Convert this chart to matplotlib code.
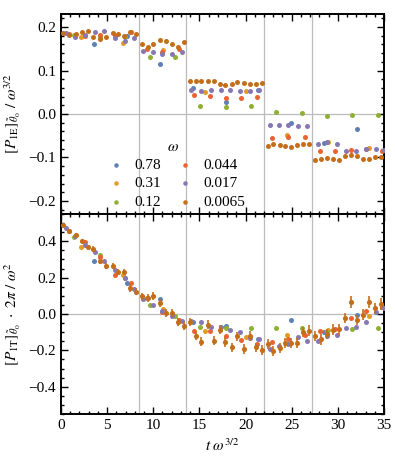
import matplotlib
matplotlib.use("Agg")
import matplotlib.pyplot as plt
from matplotlib.ticker import MultipleLocator, AutoMinorLocator

plt.rcParams["font.family"] = ["Liberation Serif", "DejaVu Serif"]
plt.rcParams["mathtext.fontset"] = "stix"

# omega values and Mathematica default colours
OMEGA_LABELS = ["0.78", "0.31", "0.12", "0.044", "0.017", "0.0065"]
COLORS = ["#5E81B5", "#E19C24", "#8FB032", "#EB6235", "#8778B3", "#C56E1A"]

# time boundaries (t omega^{3/2}) drawn as grid lines
VLINES = [8.4, 13.6, 22.0, 27.2]

# omega = 0.78
blue_x = [3.6, 7.15, 10.7, 14.3, 17.85, 21.4, 24.95, 28.5, 32.1]
blue_top = [0.161, 0.180, 0.114, 0.060, 0.028, 0.056, -0.021, -0.066, -0.035]
blue_bot = [0.290, 0.170, 0.083, -0.045, -0.064, -0.140, -0.031, -0.100, -0.004]

# omega = 0.31
orange_x = [2.2, 6.67, 11.1, 15.6, 20.1, 24.5, 28.9, 33.4]
orange_top = [0.176, 0.164, 0.148, 0.050, 0.052, -0.048, -0.065, -0.079]
orange_bot = [0.368, 0.215, 0.030, -0.096, -0.125, -0.114, -0.088, -0.013]

# omega = 0.12
green_x = [1.45, 4.2, 6.9, 9.65, 12.35, 15.05, 17.85, 20.6, 23.3, 26.1, 28.8, 31.55, 34.35]
green_top = [0.182, 0.178, 0.178, 0.130, 0.131, 0.019, 0.016, 0.018, 0.004, 0.002,
             -0.005, -0.002, -0.002]
green_bot = [0.423, 0.322, 0.199, 0.050, -0.013, -0.070, -0.079, -0.079, -0.079, -0.079,
             -0.101, -0.083, -0.079]

# omega = 0.044
red_x = [0.87, 2.6, 4.2, 5.9, 7.6, 9.3, 11.0, 12.8, 14.4, 16.1, 17.85, 19.55, 21.2,
         22.9, 24.6, 26.4, 28.1, 29.7, 31.45, 33.1, 34.8]
red_top = [0.184, 0.180, 0.182, 0.180, 0.188, 0.150, 0.143, 0.150, 0.043, 0.042, 0.037,
           0.036, 0.038, -0.056, -0.054, -0.054, -0.084, -0.084, -0.082, -0.080, -0.084]
red_bot = [0.455, 0.395, 0.313, 0.215, 0.169, 0.090, 0.009, -0.033, -0.092, -0.092, -0.120,
           -0.143, -0.165, -0.153, -0.138, -0.114, -0.094, -0.085, -0.022, 0.015, 0.037]

# omega = 0.017
purple_x = [0.5, 1.5, 2.6, 3.7, 4.7, 5.8, 6.9, 7.9, 8.9, 10.0, 11.0, 12.0, 13.1, 14.1,
            15.2, 16.3, 17.3, 18.3, 19.4, 20.5, 21.5, 22.6, 23.6, 24.6, 25.7, 26.7, 27.8,
            28.8, 29.9, 30.9, 32.0, 33.0, 34.1, 35.0]
purple_top = [0.186, 0.178, 0.181, 0.188, 0.190, 0.175, 0.169, 0.175, 0.144, 0.142, 0.139,
              0.138, 0.143, 0.056, 0.054, 0.056, 0.056, 0.056, 0.054, 0.054, 0.055, -0.025,
              -0.025, -0.025, -0.027, -0.027, -0.068, -0.065, -0.068, -0.084, -0.084, -0.080,
              -0.080, -0.082]
purple_bot = [0.473, 0.430, 0.382, 0.340, 0.294, 0.243, 0.199, 0.138, 0.083, 0.050, 0.018,
              -0.009, -0.037, -0.037, -0.046, -0.073, -0.070, -0.088, -0.097, -0.134, -0.138,
              -0.193, -0.178, -0.165, -0.129, -0.147, -0.147, -0.120, -0.116, -0.079, -0.070,
              -0.046, 0.009, 0.031]

# omega = 0.0065 (with error bars in the lower panel)
brown_x = [0.25, 0.9, 1.6, 2.25, 2.9, 3.5, 4.2, 4.9, 5.6, 6.2, 6.8, 7.5, 8.1, 8.8, 9.4,
           10.0, 10.7, 11.4, 12.0, 12.7, 13.3, 14.0, 14.6, 15.2, 15.9, 16.6, 17.2, 17.8,
           18.5, 19.1, 19.8, 20.5, 21.1, 21.8, 22.4, 23.0, 23.7, 24.3, 24.9, 25.6, 26.2,
           26.9, 27.5, 28.2, 28.8, 29.5, 30.1, 30.8, 31.4, 32.1, 32.7, 33.4, 34.0, 34.7]
brown_top = [0.186, 0.182, 0.183, 0.189, 0.191, 0.178, 0.172, 0.178, 0.187, 0.185,
             0.180, 0.188, 0.185, 0.162, 0.155, 0.161, 0.171, 0.169, 0.162, 0.155,
             0.165, 0.077, 0.075, 0.075, 0.076, 0.077, 0.069, 0.066, 0.069, 0.074,
             0.072, 0.070, 0.069, 0.071, -0.073, -0.069, -0.071, -0.074, -0.075, -0.071,
             -0.068, -0.070, -0.105, -0.103, -0.102, -0.103, -0.105, -0.097, -0.094, -0.097,
             -0.104, -0.104, -0.099, -0.098]
brown_bot = [0.487, 0.454, 0.436, 0.400, 0.368, 0.358, 0.290, 0.263, 0.263, 0.230,
             0.230, 0.143, 0.123, 0.097, 0.088, 0.097, 0.060, 0.005, 0.005, -0.046,
             -0.064, -0.046, -0.120, -0.153, -0.059, -0.147, -0.087, -0.153, -0.184, -0.123,
             -0.193, -0.120, -0.184, -0.197, -0.165, -0.205, -0.187, -0.160, -0.160, -0.160,
             -0.098, -0.092, -0.120, -0.138, -0.110, -0.087, -0.083, -0.022, 0.064, -0.033,
             -0.004, 0.064, 0.031, 0.055]
brown_err = [0.008, 0.008, 0.009, 0.010, 0.012, 0.015, 0.015, 0.018, 0.016, 0.018,
             0.018, 0.020, 0.018, 0.020, 0.020, 0.022, 0.020, 0.020, 0.022, 0.022,
             0.024, 0.022, 0.024, 0.025, 0.025, 0.025, 0.024, 0.026, 0.026, 0.025,
             0.027, 0.026, 0.027, 0.027, 0.026, 0.028, 0.028, 0.027, 0.028, 0.028,
             0.028, 0.030, 0.028, 0.030, 0.028, 0.030, 0.030, 0.030, 0.033, 0.030,
             0.030, 0.033, 0.032, 0.033]

SERIES = [
    (blue_x, blue_top, blue_bot),
    (orange_x, orange_top, orange_bot),
    (green_x, green_top, green_bot),
    (red_x, red_top, red_bot),
    (purple_x, purple_top, purple_bot),
    (brown_x, brown_top, brown_bot),
]

MARKER_SIZE = 13
FONT_SIZE = 11


def style_frame(ax, major_y, minor_y):
    ax.set_xlim(0, 35)
    ax.xaxis.set_major_locator(MultipleLocator(5))
    ax.xaxis.set_minor_locator(AutoMinorLocator(5))
    ax.yaxis.set_major_locator(MultipleLocator(major_y))
    ax.yaxis.set_minor_locator(AutoMinorLocator(minor_y))
    ax.tick_params(which="both", direction="in", top=True, right=True,
                   labelsize=FONT_SIZE, width=1.0)
    ax.tick_params(which="major", length=5)
    ax.tick_params(which="minor", length=2.5)
    for spine in ax.spines.values():
        spine.set_linewidth(1.4)

    ax.axhline(0, color="#bbbbbb", lw=0.9, zorder=0)
    for x in VLINES:
        ax.axvline(x, color="#bbbbbb", lw=0.9, zorder=0)


def main():
    fig = plt.figure(figsize=(3.95, 4.68), dpi=100)
    ax_top = fig.add_axes([0.1544, 0.5427, 0.8177, 0.4274])
    ax_bot = fig.add_axes([0.1544, 0.1154, 0.8177, 0.4274])

    for (x, y_top, y_bot), color, label in zip(SERIES, COLORS, OMEGA_LABELS):
        ax_top.scatter(x, y_top, s=MARKER_SIZE, color=color, linewidths=0,
                       label=label, zorder=3)
        if x is brown_x:
            ax_bot.errorbar(x, y_bot, yerr=brown_err, fmt="o", ms=3.7, color=color,
                            mew=0, elinewidth=1.2, capsize=0, zorder=3)
        else:
            ax_bot.scatter(x, y_bot, s=MARKER_SIZE, color=color, linewidths=0, zorder=3)

    style_frame(ax_top, 0.1, 5)
    ax_top.set_ylim(-0.23, 0.23)
    ax_top.tick_params(labelbottom=False)
    ax_top.set_ylabel(r"$[P_{\mathrm{1E}}]_{\tilde{\theta}_0}\ /\ \omega^{3/2}$",
                      fontsize=FONT_SIZE)

    style_frame(ax_bot, 0.2, 4)
    ax_bot.set_ylim(-0.55, 0.55)
    ax_bot.set_ylabel(r"$[P_{\mathrm{1T}}]_{\tilde{\theta}_0}\ \cdot\ 2\pi\ /\ \omega^2$",
                      fontsize=FONT_SIZE)
    ax_bot.set_xlabel(r"$t\ \omega^{3/2}$", fontsize=FONT_SIZE)

    legend = ax_top.legend(
        title=r"$\omega$",
        ncol=2,
        loc="upper left",
        bbox_to_anchor=(0.09, 0.42),
        frameon=False,
        fontsize=FONT_SIZE,
        title_fontsize=FONT_SIZE,
        handletextpad=0.2,
        columnspacing=0.6,
        labelspacing=0.3,
        markerscale=0.9,
        borderpad=0.2,
    )
    legend._legend_box.align = "center"

    fig.savefig("out.png", dpi=100)
    plt.close(fig)


if __name__ == "__main__":
    main()
